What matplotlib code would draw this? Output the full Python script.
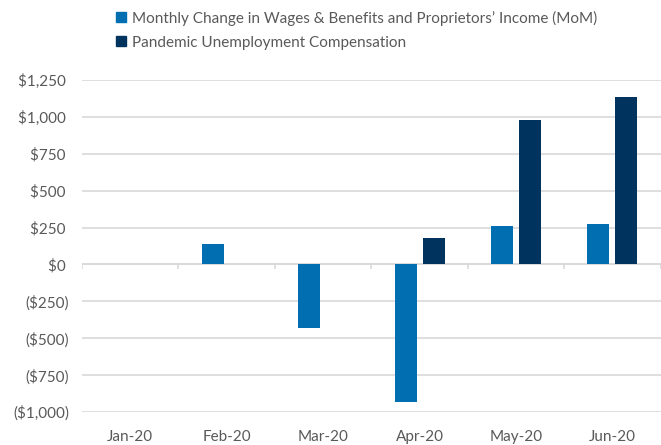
import matplotlib.pyplot as plt
import numpy as np
from matplotlib.patches import Patch

months = ["Jan-20", "Feb-20", "Mar-20", "Apr-20", "May-20", "Jun-20"]
wages_mom = [0, 140, -430, -930, 259, 273]
pandemic_uc = [0, 0, 0, 180, 980, 1135]
yticks = [-1000, -750, -500, -250, 0, 250, 500, 750, 1000, 1250]

blue = "#006EB0"
navy = "#00345F"
grey_txt = "#595959"
grid = "#D9D9D9"

plt.rcParams["font.family"] = ["Lato", "DejaVu Sans"]

fig = plt.figure(figsize=(6.61, 4.45), dpi=100)
ax = fig.add_axes([0.124, 0.0742, 0.8755, 0.7458])

x = np.arange(len(months))
w = 0.228
off = 0.145
ax.bar(x - off, wages_mom, w, color=blue, zorder=3)
ax.bar(x + off, pandemic_uc, w, color=navy, zorder=3)

ax.set_xlim(-0.5, len(months) - 0.5)
ax.set_ylim(-1000, 1250)
ax.set_yticks(yticks)


def fmt(v):
    if v < 0:
        return "(${:,})".format(-v)
    return "${:,} ".format(v)


ax.set_yticklabels([fmt(v) for v in yticks])
ax.yaxis.grid(True, color=grid, linewidth=1.2, zorder=0)
ax.set_axisbelow(True)
ax.set_xticks(x)
ax.set_xticklabels(months)
ax.tick_params(axis="both", length=0, labelsize=11, colors=grey_txt)
ax.tick_params(axis="y", pad=9)
ax.tick_params(axis="x", pad=13)
for s in ax.spines.values():
    s.set_visible(False)

# category axis at zero with boundary ticks
ax.axhline(0, color=grid, linewidth=1.2, zorder=2)
ax.vlines(np.arange(len(months) + 1) - 0.5, -34, 0, color=grid, linewidth=1.2, zorder=2)

handles = [Patch(color=blue, label="Monthly Change in Wages & Benefits and Proprietors\u2019 Income (MoM)"),
           Patch(color=navy, label="Pandemic Unemployment Compensation")]
fig.legend(handles=handles, loc="upper left", bbox_to_anchor=(0.16, 1.0), frameon=False,
           fontsize=11, labelcolor=grey_txt, handlelength=0.65, handleheight=0.65,
           handletextpad=0.4, labelspacing=0.65, borderaxespad=0.3)

fig.savefig("out.png", dpi=100)
